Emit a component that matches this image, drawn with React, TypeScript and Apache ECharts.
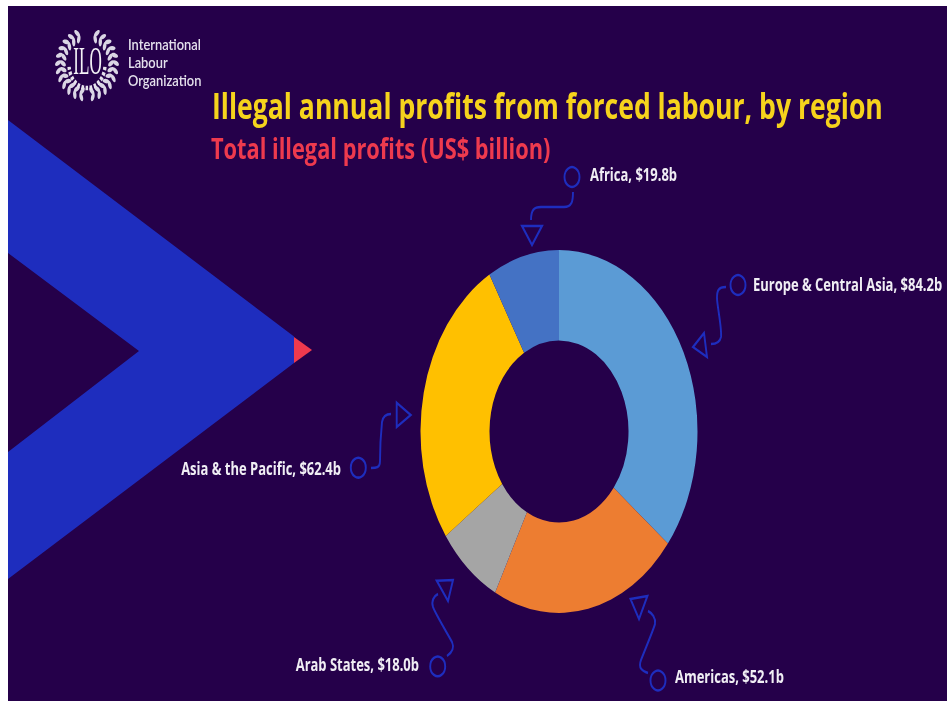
import React, { useEffect, useRef } from "react";
import * as echarts from "echarts";

const regions = ["Europe & Central Asia", "Americas", "Arab States", "Asia & the Pacific", "Africa"];
const profits = [84.2, 52.1, 18.0, 62.4, 19.8];
const sliceColors = ["#5B9BD5", "#ED7D31", "#A5A5A5", "#FFC000", "#4472C4"];
const logoLines = ["International", "Labour", "Organization"];
const titleText = "Illegal annual profits from forced labour, by region";
const subtitleText = "Total illegal profits (US$ billion)";

// Page-to-chart mapping: the whole picture is stretched vertically.
const LEFT = 8, TOP = 6, W = 939, H = 695, SY = 1.31;
const X = (x: number) => x - LEFT;
const Y = (y: number) => (y - TOP) / SY;

const BG = "#25004A", BLUE = "#1E2DBE", RED = "#EE3A4E", YELLOW = "#F6D31C", WHITE = "#F0EEF4";
const LABEL_FONT = "'Open Sans'";

// label anchor in page coordinates, per region
const labelAnchors: [number, number, string][] = [
  [753, 284, "left"], [675, 676, "left"], [419, 664, "right"], [341, 468, "right"], [590, 174, "left"],
];

const circles = [[738, 285], [658, 680.5], [437.7, 666.4], [358.3, 467.7], [572, 177]];
const triangles = [
  [[704, 333], [707, 357], [693, 347]],
  [[630.5, 599], [647.4, 596], [639, 619]],
  [[436.7, 580.7], [453, 580], [448, 601]],
  [[396.7, 402.7], [410.7, 415], [396.7, 427]],
  [[522, 226], [542, 226], [532, 245]],
];
// [start, c1, c2, mid, ...] cubic strings in page coordinates
const leaders: number[][] = [
  [726, 287, 718, 287, 717, 291, 717, 298, 717, 305, 722, 328, 721, 337, 720, 342, 716, 344, 711, 344],
  [648, 673, 642, 671, 638, 668, 641, 660, 644, 652, 653, 631, 655, 624, 656, 618, 652, 613, 648, 611],
  [447, 656, 451, 653, 455, 649, 452, 642, 449, 636, 436, 615, 433, 607, 431, 601, 434, 596, 438, 594],
  [371, 468, 376, 468, 380, 468, 380, 461, 380, 452, 381, 432, 382, 422, 383, 416, 387, 414, 391, 414],
  [573, 192, 573, 201, 572, 207, 564, 207, 556, 207, 548, 207, 541, 207, 534, 207, 531, 210, 531, 220],
];

function leaderPath(p: number[]) {
  let d = `M${X(p[0])} ${Y(p[1])}`;
  for (let i = 2; i + 5 < p.length; i += 6) {
    d += `C${X(p[i])} ${Y(p[i + 1])} ${X(p[i + 2])} ${Y(p[i + 3])} ${X(p[i + 4])} ${Y(p[i + 5])}`;
  }
  return d;
}

leaders.forEach((p, i) => {
  echarts.graphic.registerShape("leader" + i, echarts.graphic.extendPath(leaderPath(p), {}));
});

function logoElements() {
  const cx = X(87), cy = Y(64.5), els: any[] = [];
  const rx = 26.5, ry = 23;
  for (const side of [-1, 1]) {
    for (let k = 0; k < 12; k++) {
      const a = (Math.PI / 180) * (20 + k * 13.5);
      for (const off of [-2.4, 2.4]) {
        const px = cx + side * (rx + off) * Math.sin(a);
        const py = cy - (ry + off) * Math.cos(a);
        els.push({
          type: "ellipse", x: px, y: py,
          rotation: -side * (a + (off < 0 ? -0.55 : 0.55)),
          shape: { cx: 0, cy: 0, rx: 1.7, ry: 3.4 },
          style: { fill: "#DAD5E4" }, silent: true,
        });
      }
    }
  }
  els.push({
    type: "arc", shape: { cx, cy, r: 18, startAngle: 0.1, endAngle: Math.PI - 0.1, clockwise: true },
    style: { stroke: "#E6E2EC", lineWidth: 3.4, lineDash: [2.6, 1.6], fill: "none" }, silent: true,
  });
  els.push({
    type: "text", x: cx + 0.5, y: cy - 3, scaleX: 0.55,
    style: { text: "ILO", fill: "#F4F2F7", font: "31px 'Liberation Serif'", align: "center", verticalAlign: "middle" },
    silent: true,
  });
  return els;
}

function txt(text: string, x: number, y: number, font: string, fill: string, scaleX = 1) {
  return { type: "text", x: X(x), y: Y(y), scaleX, style: { text, font, fill, align: "left", verticalAlign: "middle" }, silent: true };
}

export default function App() {
  const ref = useRef<HTMLDivElement>(null);
  useEffect(() => {
    const chart = echarts.init(ref.current!, undefined, { renderer: "svg" });
    const stroke = { stroke: BLUE, lineWidth: 1.9, fill: "none" };
    const graphic: any[] = [
      {
        type: "polygon",
        shape: { points: [[8, 120], [294, 336.5], [294, 363], [8, 579], [8, 452], [139, 351], [8, 253]].map(([a, b]) => [X(a), Y(b)]) },
        style: { fill: BLUE }, silent: true,
      },
      {
        type: "polygon",
        shape: { points: [[294, 337], [312, 350], [294, 363]].map(([a, b]) => [X(a), Y(b)]) },
        style: { fill: RED }, silent: true,
      },
      ...logoElements(),
      ...logoLines.map((t, i) => txt(t, 128, [45, 63, 81][i], "600 11px Lato", "#E4E0EC", 1.17)),
      txt(titleText, 212, 105.5, `700 26.6px ${LABEL_FONT}`, YELLOW),
      txt(subtitleText, 211, 148, `700 21.8px ${LABEL_FONT}`, RED),
      ...circles.map(([a, b]) => ({
        type: "circle", shape: { cx: X(a), cy: Y(b), r: 7.5 }, style: stroke, silent: true,
      })),
      ...triangles.map((t) => ({
        type: "polygon", shape: { points: t.map(([a, b]) => [X(a), Y(b)]) }, style: stroke, silent: true,
      })),
      ...leaders.map((_, i) => ({ type: "leader" + i, style: stroke, silent: true })),
    ];
    chart.setOption({
      animation: false,
      backgroundColor: BG,
      graphic,
      series: [
        {
          type: "pie",
          silent: true,
          center: [X(559), Y(431.5)],
          radius: [69.5, 138.5],
          startAngle: 90,
          clockwise: true,
          avoidLabelOverlap: false,
          data: regions.map((name, i) => ({ name, value: profits[i], itemStyle: { color: sliceColors[i] } })),
          label: {
            show: true,
            formatter: (p: any) => `${p.name}, $${p.value.toFixed(1)}b`,
            color: WHITE,
            fontFamily: "Open Sans",
            fontWeight: 700,
            fontSize: 13,
          },
          labelLine: { show: false },
          labelLayout: (p: any) => {
            const [a, b, align] = labelAnchors[p.dataIndex];
            return { x: X(a), y: Y(b), align, verticalAlign: "middle" };
          },
        },
      ],
    });
    return () => chart.dispose();
  }, []);
  return (
    <div
      ref={ref}
      style={{
        position: "absolute", left: LEFT, top: TOP, width: W, height: H / SY,
        transformOrigin: "0 0", transform: `scaleY(${SY})`, filter: "blur(0.4px)",
      }}
    />
  );
}
